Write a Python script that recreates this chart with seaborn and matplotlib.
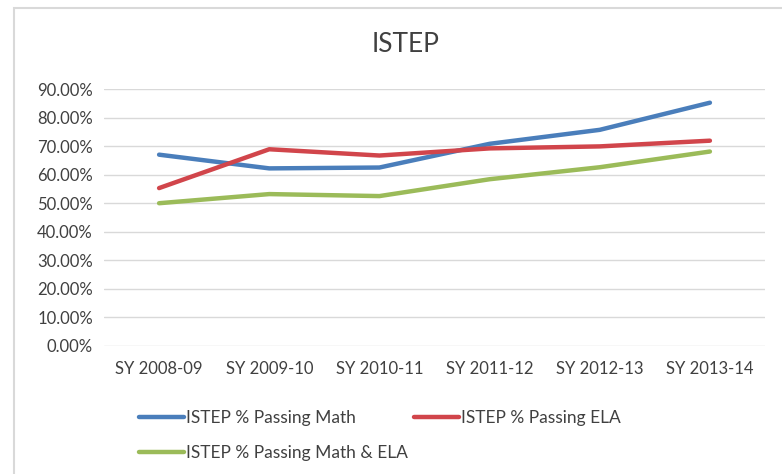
import seaborn as sns
import numpy as np
import pandas as pd
import matplotlib.pyplot as plt
from matplotlib.patches import Rectangle
from matplotlib.ticker import FuncFormatter

years = ['SY 2008-09', 'SY 2009-10', 'SY 2010-11', 'SY 2011-12', 'SY 2012-13', 'SY 2013-14']
math_pass = [0.670, 0.622, 0.625, 0.708, 0.757, 0.852]
ela_pass = [0.553, 0.689, 0.667, 0.692, 0.699, 0.719]
both_pass = [0.500, 0.532, 0.525, 0.584, 0.626, 0.681]
series_names = ['ISTEP % Passing Math', 'ISTEP % Passing ELA', 'ISTEP % Passing Math & ELA']
colors = ['#4a7ebb', '#d1454b', '#9bbb59']

# tabla larga para seaborn
df = pd.DataFrame({
    'year': years * 3,
    'value': math_pass + ela_pass + both_pass,
    'series': [s for s in series_names for _ in years],
})

sns.set_theme(style='white')
plt.rcParams['font.family'] = ['Lato', 'DejaVu Sans']
txt_color = '#404040'

fig = plt.figure(figsize=(7.82, 4.74), dpi=100)
# borde del área del gráfico (solo arriba e izquierda visibles)
fig.patches.append(Rectangle((14 / 782, -0.1), 1.2, 1.1 - 8 / 474, transform=fig.transFigure,
                             fill=False, edgecolor='#d9d9d9', linewidth=1.5))
ax = fig.add_axes([104 / 782, 1 - 346 / 474, 661 / 782, 257 / 474])

sns.lineplot(data=df, x='year', y='value', hue='series', palette=colors,
             linewidth=3.2, sort=False, ax=ax)

ax.set_ylim(0, 0.9)
ax.set_xlim(-0.5, 5.5)
ax.set_yticks(np.arange(0, 0.91, 0.1))
ax.yaxis.set_major_formatter(FuncFormatter(lambda v, p: f'{v*100:.2f}%'))
ax.grid(axis='y', color='#d9d9d9', linewidth=1)
ax.set_axisbelow(True)
for s in ax.spines.values():
    s.set_visible(False)
ax.tick_params(axis='both', length=0, labelsize=12, labelcolor=txt_color)
ax.tick_params(axis='y', pad=8)
ax.tick_params(axis='x', pad=11)
ax.set_xlabel('')
ax.set_ylabel('')
fig.text(0.518, 1 - 44 / 474, 'ISTEP', ha='center', va='center', fontsize=19, color=txt_color)

handles, labels = ax.get_legend_handles_labels()
ax.get_legend().remove()
leg_kw = dict(loc='upper left', frameon=False, fontsize=12.5, handlelength=2.6,
              handletextpad=0.15, labelspacing=1.1, labelcolor=txt_color)
# dos leyendas: columna izquierda y la entrada de ELA a la derecha
leg1 = fig.legend([handles[0], handles[2]], [labels[0], labels[2]],
                  bbox_to_anchor=(123 / 782, 1 - 394 / 474), **leg_kw)
fig.legend([handles[1]], [labels[1]],
           bbox_to_anchor=(398 / 782, 1 - 394 / 474), **leg_kw)

fig.savefig('out.png', dpi=100)
